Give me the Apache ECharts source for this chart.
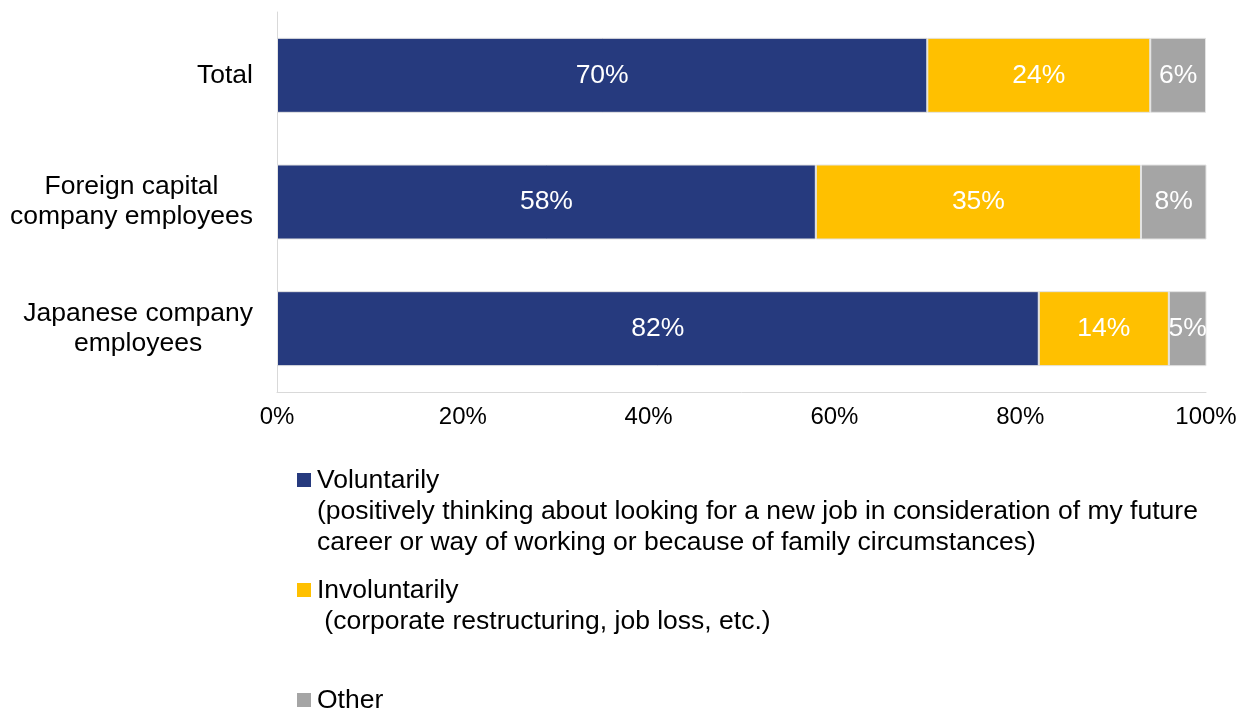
<!DOCTYPE html>
<html>
<head>
<meta charset="utf-8">
<title>Reasons for changing jobs</title>
<script src="https://cdn.jsdelivr.net/npm/echarts@6/dist/echarts.min.js"></script>
<style>
  html, body { margin: 0; padding: 0; background: #fff; }
  #chart { width: 1253px; height: 712px; }
</style>
</head>
<body>
<div id="chart"></div>
<script>
// Respondent groups (top to bottom)
const categories = ['Total', 'Foreign capital\ncompany employees', 'Japanese company\nemployees'];

// Share of respondents by reason for leaving, in percent
const voluntarily = [70, 58, 82];
const involuntarily = [24, 35, 14];
const other = [6, 8, 5];

// Value axis ticks
const tickValues = [0, 20, 40, 60, 80, 100];

// Legend entries: title and explanatory note
const seriesNames = ['Voluntarily', 'Involuntarily', 'Other'];
const seriesNotes = [
  '(positively thinking about looking for a new job in consideration of my future\ncareer or way of working or because of family circumstances)',
  ' (corporate restructuring, job loss, etc.)',
  ''
];
const seriesColors = ['#263a7e', '#ffc000', '#a5a5a5'];
const seriesValues = [voluntarily, involuntarily, other];

const FONT = '"Liberation Sans", Arial, sans-serif';
const TEXT_SIZE = 26.5;

const chart = echarts.init(document.getElementById('chart'), null, { renderer: 'canvas' });

const series = seriesNames.map((name, i) => ({
  name: name,
  type: 'bar',
  stack: 'share',
  barWidth: 75,
  data: seriesValues[i],
  itemStyle: { color: seriesColors[i], borderColor: '#e3e3e3', borderWidth: 1 },
  label: {
    show: true,
    position: 'inside',
    formatter: '{c}%',
    color: '#ffffff',
    fontFamily: FONT,
    fontSize: TEXT_SIZE
  },
  emphasis: { disabled: true }
}));

// Legend drawn as swatch + multi-line caption
const legendCenters = [480, 590, 700];
const LINE_H = 31;
const SWATCH = 14;
const graphic = [];
seriesNames.forEach((name, i) => {
  graphic.push({
    type: 'rect',
    x: 297,
    y: legendCenters[i] - SWATCH / 2,
    shape: { width: SWATCH, height: SWATCH },
    style: { fill: seriesColors[i] }
  });
  const text = seriesNotes[i] ? name + '\n' + seriesNotes[i] : name;
  graphic.push({
    type: 'text',
    x: 317,
    y: legendCenters[i] + 1 - LINE_H / 2,
    style: {
      text: text,
      font: TEXT_SIZE + 'px ' + FONT,
      lineHeight: LINE_H,
      fill: '#000000',
      textAlign: 'left',
      textVerticalAlign: 'top'
    }
  });
});

chart.setOption({
  animation: false,
  backgroundColor: '#ffffff',
  grid: { left: 277, right: 47, top: 12, bottom: 320, containLabel: false },
  legend: { show: false },
  xAxis: {
    type: 'value',
    min: tickValues[0],
    max: tickValues[tickValues.length - 1],
    interval: tickValues[1] - tickValues[0],
    axisLine: { show: true, lineStyle: { color: '#d9d9d9', width: 1 } },
    axisTick: { show: false },
    splitLine: { show: false },
    axisLabel: {
      formatter: '{value}%',
      color: '#000000',
      fontFamily: FONT,
      fontSize: 24,
      margin: 13
    }
  },
  yAxis: {
    type: 'category',
    inverse: true,
    data: categories,
    axisLine: { show: true, lineStyle: { color: '#d9d9d9', width: 1 } },
    axisTick: { show: false },
    axisLabel: {
      margin: 24,
      color: '#000000',
      fontFamily: FONT,
      fontSize: TEXT_SIZE,
      formatter: v => v.split('\n').map(s => '{c|' + s + '}').join('\n'),
      rich: {
        c: { align: 'center', fontSize: TEXT_SIZE, lineHeight: 30, fontFamily: FONT, color: '#000000' }
      }
    }
  },
  series: series,
  graphic: graphic
});
</script>
</body>
</html>
